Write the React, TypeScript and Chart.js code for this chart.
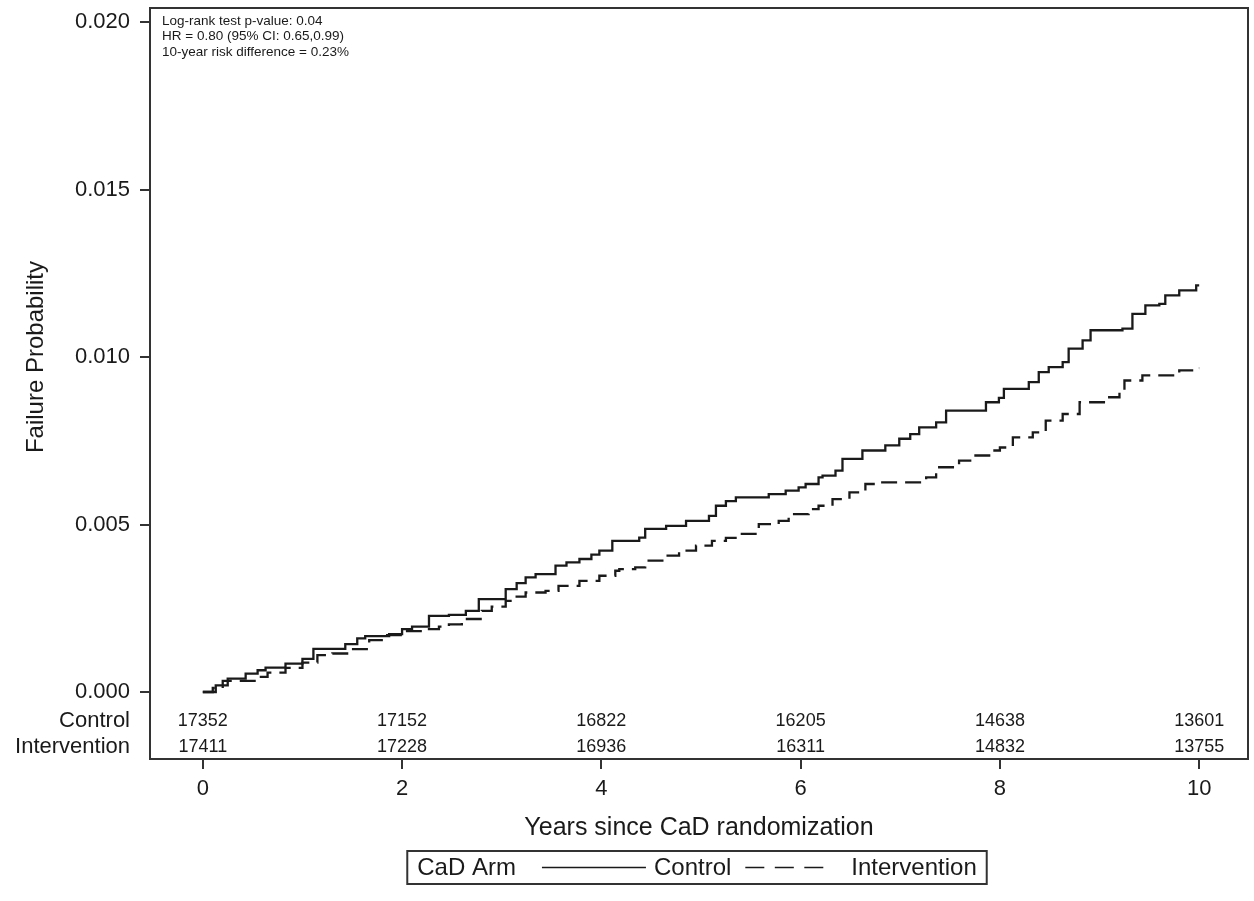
import React, { useEffect, useRef } from "react";
import { Chart, registerables } from "chart.js";

Chart.register(...registerables);

// ---- data ----
const controlYears = [0, 0.13, 0.25, 0.43, 0.55, 0.63, 0.83, 1.0, 1.11, 1.43, 1.55, 1.63, 1.87, 2.0, 2.1, 2.27, 2.47, 2.64, 2.77, 3.04, 3.15, 3.24, 3.34, 3.54, 3.65, 3.78, 3.9, 3.98, 4.11, 4.38, 4.44, 4.65, 4.85, 5.08, 5.15, 5.25, 5.35, 5.68, 5.85, 5.98, 6.05, 6.18, 6.22, 6.35, 6.42, 6.62, 6.85, 6.99, 7.1, 7.19, 7.36, 7.46, 7.86, 7.99, 8.04, 8.29, 8.39, 8.49, 8.63, 8.69, 8.83, 8.91, 9.23, 9.33, 9.46, 9.6, 9.66, 9.8, 9.97, 10.0];
const controlProb = [0, 0.0002, 0.0004, 0.00055, 0.00065, 0.00073, 0.00085, 0.00099, 0.00129, 0.00143, 0.0016, 0.00167, 0.00173, 0.00188, 0.00195, 0.00227, 0.0023, 0.00242, 0.00277, 0.00307, 0.00325, 0.00342, 0.00352, 0.00377, 0.00387, 0.00397, 0.0041, 0.00422, 0.00451, 0.00461, 0.00487, 0.00496, 0.00511, 0.00526, 0.00556, 0.0057, 0.00581, 0.00591, 0.00601, 0.00611, 0.00621, 0.00641, 0.00646, 0.00661, 0.00696, 0.00721, 0.00736, 0.00756, 0.0077, 0.0079, 0.00805, 0.0084, 0.00865, 0.00878, 0.00905, 0.00925, 0.00955, 0.0097, 0.00985, 0.01025, 0.0105, 0.0108, 0.01085, 0.01129, 0.01154, 0.01159, 0.01184, 0.01199, 0.01214, 0.01214];

const interventionYears = [0, 0.1, 0.2, 0.55, 0.65, 0.83, 1.0, 1.15, 1.3, 1.47, 1.67, 1.85, 2.05, 2.2, 2.37, 2.47, 2.6, 2.8, 2.9, 3.04, 3.15, 3.24, 3.44, 3.57, 3.78, 3.98, 4.14, 4.18, 4.34, 4.44, 4.65, 4.78, 4.95, 5.11, 5.25, 5.38, 5.58, 5.78, 5.88, 6.08, 6.18, 6.32, 6.49, 6.65, 6.79, 7.26, 7.36, 7.59, 7.72, 7.92, 8.0, 8.13, 8.33, 8.46, 8.63, 8.8, 9.06, 9.2, 9.25, 9.43, 9.8, 9.98, 10.0];
const interventionProb = [0, 0.00012, 0.00033, 0.00045, 0.00058, 0.00072, 0.00088, 0.0011, 0.00115, 0.00128, 0.00155, 0.0017, 0.00182, 0.00188, 0.00195, 0.00202, 0.00218, 0.00242, 0.00255, 0.00272, 0.00285, 0.00297, 0.00302, 0.00317, 0.00332, 0.00347, 0.00362, 0.00367, 0.00372, 0.00392, 0.00407, 0.00422, 0.00437, 0.00451, 0.0046, 0.00472, 0.00501, 0.00511, 0.00531, 0.00546, 0.00556, 0.00576, 0.00596, 0.00621, 0.00626, 0.00641, 0.00671, 0.00691, 0.00706, 0.00721, 0.0073, 0.0076, 0.00775, 0.0081, 0.0083, 0.00865, 0.0088, 0.00895, 0.0093, 0.00945, 0.0096, 0.00967, 0.00967];

const atRiskYears = [0, 2, 4, 6, 8, 10];
const atRiskControl = [17352, 17152, 16822, 16205, 14638, 13601];
const atRiskIntervention = [17411, 17228, 16936, 16311, 14832, 13755];

const xTickValues = [0, 2, 4, 6, 8, 10];
const yTickValues = [0, 0.005, 0.01, 0.015, 0.02];

const annotationLines = [
  "Log-rank test p-value: 0.04",
  "HR = 0.80 (95% CI: 0.65,0.99)",
  "10-year risk difference = 0.23%",
];
const seriesNames = ["Control", "Intervention"];
const legendTitle = "CaD Arm";
const xTitle = "Years since CaD randomization";
const yTitle = "Failure Probability";

const FONT = "'Liberation Sans', Arial, Helvetica, sans-serif";
const INK = "#1a1a1a";
const DASH = [16, 8];

const decorPlugin = {
  id: "decor",
  afterDraw(chart: any) {
    const { ctx, chartArea } = chart;
    const xs = chart.scales.x;
    const ys = chart.scales.y;
    const { left, right, top, bottom } = chartArea;
    ctx.save();
    // frame
    ctx.strokeStyle = "#333";
    ctx.lineWidth = 2;
    ctx.strokeRect(left, top, right - left, bottom - top);

    // annotation text
    ctx.fillStyle = INK;
    ctx.font = `13.5px ${FONT}`;
    ctx.textAlign = "left";
    ctx.textBaseline = "middle";
    annotationLines.forEach((t, i) => ctx.fillText(t, left + 12, top + 13 + i * 15.5));

    // at-risk table
    const rowY = [bottom - 38, bottom - 12];
    ctx.font = `18px ${FONT}`;
    ctx.textAlign = "center";
    atRiskYears.forEach((yr, i) => {
      const px = xs.getPixelForValue(yr);
      ctx.fillText(String(atRiskControl[i]), px, rowY[0]);
      ctx.fillText(String(atRiskIntervention[i]), px, rowY[1]);
    });
    ctx.font = `22px ${FONT}`;
    ctx.textAlign = "right";
    ctx.fillText(seriesNames[0], left - 20, rowY[0]);
    ctx.fillText(seriesNames[1], left - 20, rowY[1]);

    // y title
    const yc = (ys.getPixelForValue(0) + ys.getPixelForValue(0.02)) / 2;
    ctx.save();
    ctx.translate(36, yc);
    ctx.rotate(-Math.PI / 2);
    ctx.textAlign = "center";
    ctx.font = `24px ${FONT}`;
    ctx.fillText(yTitle, 0, 0);
    ctx.restore();

    // legend
    ctx.font = `24px ${FONT}`;
    ctx.textAlign = "left";
    const pad = 10;
    const wTitle = ctx.measureText(legendTitle).width;
    const wC = ctx.measureText(seriesNames[0]).width;
    const wI = ctx.measureText(seriesNames[1]).width;
    const gap1 = 26, lineLen = 104, gap2 = 8, gap3 = 14, dashLen = 78, gap4 = 28;
    const total = pad + wTitle + gap1 + lineLen + gap2 + wC + gap3 + dashLen + gap4 + wI + pad;
    const cx = (left + right) / 2 - 2;
    const bx = cx - total / 2;
    const by = 851, bh = 33;
    const my = by + bh / 2;
    ctx.lineWidth = 2;
    ctx.strokeStyle = "#333";
    ctx.strokeRect(bx, by, total, bh);
    let x = bx + pad;
    ctx.fillText(legendTitle, x, my + 1);
    x += wTitle + gap1;
    ctx.strokeStyle = INK;
    ctx.lineWidth = 1.5;
    ctx.beginPath();
    ctx.moveTo(x, my);
    ctx.lineTo(x + lineLen, my);
    ctx.stroke();
    x += lineLen + gap2;
    ctx.fillText(seriesNames[0], x, my + 1);
    x += wC + gap3;
    ctx.setLineDash([19, 10.5]);
    ctx.beginPath();
    ctx.moveTo(x, my);
    ctx.lineTo(x + dashLen, my);
    ctx.stroke();
    ctx.setLineDash([]);
    x += dashLen + gap4;
    ctx.fillText(seriesNames[1], x, my + 1);
    ctx.restore();
  },
};

export default function App() {
  const ref = useRef<HTMLCanvasElement>(null);
  useEffect(() => {
    if (!ref.current) return;
    const chart = new Chart(ref.current, {
      type: "line",
      data: {
        datasets: [
          {
            label: seriesNames[0],
            data: controlYears.map((x, i) => ({ x, y: controlProb[i] })),
            borderColor: INK,
            borderWidth: 2.3,
            pointRadius: 0,
            stepped: "before",
            fill: false,
          },
          {
            label: seriesNames[1],
            data: interventionYears.map((x, i) => ({ x, y: interventionProb[i] })),
            borderColor: INK,
            borderWidth: 2.3,
            borderDash: DASH,
            pointRadius: 0,
            stepped: "before",
            fill: false,
          },
        ],
      },
      options: {
        animation: false,
        responsive: false,
        layout: { padding: { left: 0, right: 6, top: 8, bottom: 53 } },
        plugins: { legend: { display: false }, tooltip: { enabled: false } },
        scales: {
          x: {
            type: "linear",
            min: -0.53,
            max: 10.49,
            afterBuildTicks: (s: any) => {
              s.ticks = xTickValues.map((v) => ({ value: v }));
            },
            afterFit: (s: any) => {
              s.height = 89;
              s.paddingLeft = 0;
              s.paddingRight = 0;
            },
            border: { display: false },
            grid: { drawOnChartArea: false, drawTicks: true, tickLength: 10, color: "#333", lineWidth: 2 },
            ticks: {
              padding: 7,
              color: INK,
              font: { family: FONT, size: 22 },
              maxRotation: 0,
              autoSkip: false,
              callback: (v: any) => String(v),
            },
            title: {
              display: true,
              text: xTitle,
              color: INK,
              font: { family: FONT, size: 25 },
              padding: { top: 0, bottom: 5 },
            },
          },
          y: {
            type: "linear",
            min: -0.002,
            max: 0.02042,
            afterBuildTicks: (s: any) => {
              s.ticks = yTickValues.map((v) => ({ value: v }));
            },
            afterFit: (s: any) => {
              s.width = 150;
              s.paddingTop = 0;
              s.paddingBottom = 0;
            },
            border: { display: false },
            grid: { drawOnChartArea: false, drawTicks: true, tickLength: 10, color: "#333", lineWidth: 2 },
            ticks: {
              padding: 10,
              color: INK,
              font: { family: FONT, size: 22 },
              autoSkip: false,
              callback: (v: any) => Number(v).toFixed(3),
            },
          },
        },
      },
      plugins: [decorPlugin],
    });
    return () => chart.destroy();
  }, []);
  return (
    <div style={{ position: "fixed", left: 0, top: 0, width: 1254, height: 901, background: "#fff" }}>
      <canvas ref={ref} width={1254} height={901} />
    </div>
  );
}
